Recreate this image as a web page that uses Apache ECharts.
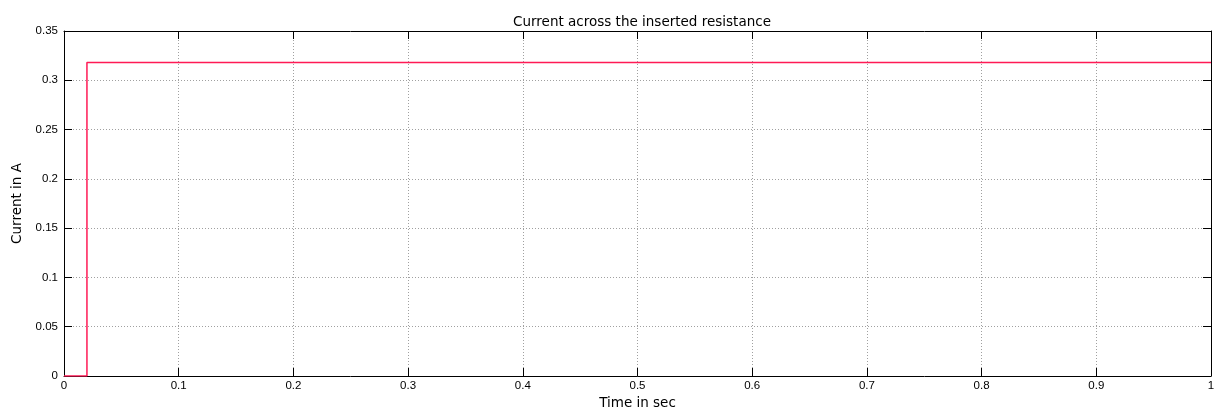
<!DOCTYPE html>
<html><head><meta charset="utf-8">
<script src="https://cdn.jsdelivr.net/npm/echarts@6/dist/echarts.min.js"></script>
<style>html,body{margin:0;padding:0;background:#fff;overflow:hidden}#c{width:1214px;height:411px}</style>
</head><body><div id="c"></div>
<script>
const titleText = 'Current across the inserted resistance';
const xName = 'Time in sec';
const yName = 'Current in A';
const time = [0, 0.02, 0.02, 1];
const current = [0, 0, 0.318, 0.318];
const xTicks = [0, 0.1, 0.2, 0.3, 0.4, 0.5, 0.6, 0.7, 0.8, 0.9, 1];
const yTicks = [0, 0.05, 0.1, 0.15, 0.2, 0.25, 0.3, 0.35];

const font = 'Liberation Sans, Arial, sans-serif';
const wideFont = 'DejaVu Sans, sans-serif';
const fmt = v => String(parseFloat(v.toFixed(2)));
const chart = echarts.init(document.getElementById('c'), null, {renderer: 'canvas'});
const gridLine = {show: true, lineStyle: {color: '#a0a0a0', type: [1, 2], width: 1}};
chart.setOption({
  animation: false,
  backgroundColor: '#fff',
  title: {text: titleText, left: 637, top: 10, textAlign: 'center',
    textStyle: {fontFamily: wideFont, fontSize: 13.5, fontWeight: 'normal', color: '#000'}},
  grid: {left: 64, right: 3, top: 31, bottom: 35, containLabel: false, outerBoundsMode: 'none'},
  xAxis: [{
    type: 'value', min: 0, max: 1, interval: 0.1,
    name: xName, nameLocation: 'middle', nameGap: 19,
    nameTextStyle: {fontFamily: wideFont, fontSize: 13.5, color: '#000'},
    axisLine: {show: true, onZero: false, lineStyle: {color: '#000', width: 1}},
    axisTick: {show: true, inside: true, length: 8, lineStyle: {color: '#000'}},
    axisLabel: {fontFamily: font, fontSize: 11.5, color: '#000', margin: 4, formatter: fmt,
      showMinLabel: true, showMaxLabel: true, hideOverlap: false},
    splitLine: gridLine
  }, {
    type: 'value', min: 0, max: 1, interval: 0.1, position: 'top',
    axisLine: {show: true, onZero: false, lineStyle: {color: '#000', width: 1}},
    axisTick: {show: true, inside: true, length: 8, lineStyle: {color: '#000'}},
    axisLabel: {show: false}, splitLine: {show: false}
  }],
  yAxis: [{
    type: 'value', min: 0, max: 0.35, interval: 0.05,
    name: yName, nameLocation: 'middle', nameGap: 37,
    nameTextStyle: {fontFamily: wideFont, fontSize: 13.5, color: '#000'},
    axisLine: {show: true, onZero: false, lineStyle: {color: '#000', width: 1}},
    axisTick: {show: true, inside: true, length: 8, lineStyle: {color: '#000'}},
    axisLabel: {fontFamily: font, fontSize: 11.5, color: '#000', margin: 6, formatter: fmt,
      showMinLabel: true, showMaxLabel: true, hideOverlap: false},
    splitLine: gridLine
  }, {
    type: 'value', min: 0, max: 0.35, interval: 0.05, position: 'right',
    axisLine: {show: true, onZero: false, lineStyle: {color: '#000', width: 1}},
    axisTick: {show: true, inside: true, length: 8, lineStyle: {color: '#000'}},
    axisLabel: {show: false}, splitLine: {show: false}
  }],
  series: [{
    type: 'line', xAxisIndex: 0, yAxisIndex: 0,
    data: time.map((t, i) => [t, current[i]]),
    showSymbol: false, symbol: 'none',
    lineStyle: {color: '#ff1a55', width: 1.5},
    itemStyle: {color: '#ff1a55'}
  }]
});
</script></body></html>
